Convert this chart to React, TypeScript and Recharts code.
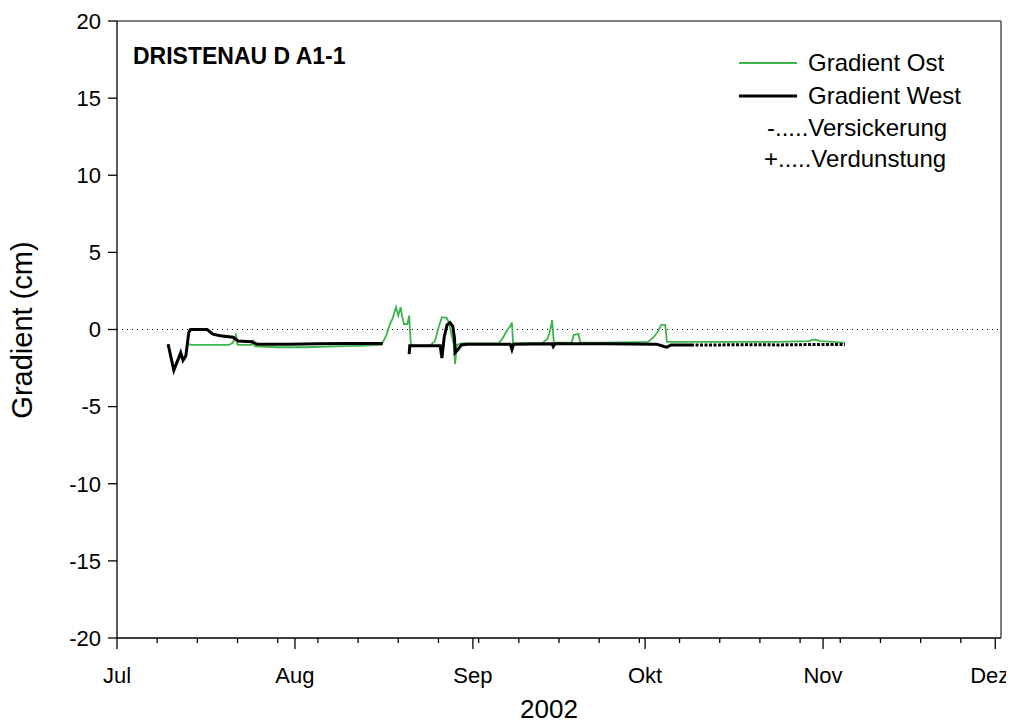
import React from "react";
import { LineChart, Line, XAxis, YAxis, ReferenceLine } from "recharts";

// Days since 1 July 2002
const ostDays = [12.5, 13, 19.5, 20.2, 20.7, 21.0, 23.5, 23.7, 24.0, 28, 33, 38, 43, 46.0, 46.5, 47.0, 47.5, 48.0, 48.6, 49.0, 49.4, 49.7, 50.0, 50.6, 50.9, 51.2, 54.5, 55.4, 55.9, 56.6, 57.4, 57.8, 58.3, 58.7, 58.9, 59.2, 60, 66.5, 67.3, 68.0, 68.5, 68.8, 69.0, 74.2, 75.0, 75.5, 75.8, 76.1, 79.2, 79.6, 80.4, 80.7, 85, 92.5, 93.5, 94.3, 94.8, 95.5, 95.8, 105, 115, 120.5, 121.5, 122.5, 126.8];
const ostValues = [-0.95, -1.0, -1.0, -0.85, -0.35, -1.0, -1.0, -0.75, -1.1, -1.15, -1.15, -1.1, -1.05, -1.0, -0.7, -0.3, 0.3, 0.7, 1.45, 0.9, 1.45, 0.8, 0.35, 0.35, 0.9, -1.05, -1.05, -0.75, 0.0, 0.8, 0.75, 0.5, -0.4, -1.0, -2.25, -1.0, -0.9, -0.9, -0.5, 0.0, 0.2, 0.45, -0.9, -0.85, -0.6, 0.0, 0.6, -0.85, -0.85, -0.35, -0.3, -0.85, -0.85, -0.8, -0.5, -0.1, 0.3, 0.3, -0.8, -0.8, -0.8, -0.75, -0.65, -0.75, -0.85];

const westDays = [8.9, 9.9, 11.1, 11.5, 12.0, 12.5, 12.8, 15.7, 16.7, 18.0, 20.2, 21.1, 23.5, 24.4, 30, 35, 40, 46.3, 46.4, 50.9, 51.0, 56.3, 56.6, 57.0, 57.5, 58.0, 58.5, 58.8, 58.9, 59.4, 60.0, 61, 68.5, 68.8, 69.1, 75.8, 76.0, 76.3, 85, 94, 95.3, 95.8, 96.5, 100];
const westValues: (number | null)[] = [-0.95, -2.65, -1.5, -2.0, -1.7, -0.2, 0.0, 0.0, -0.3, -0.4, -0.5, -0.75, -0.8, -0.95, -0.95, -0.92, -0.9, -0.9, null, -1.6, -1.05, -1.05, -1.85, -0.5, 0.3, 0.45, 0.2, -0.6, -1.5, -1.3, -1.0, -0.95, -0.95, -1.3, -0.95, -0.92, -1.1, -0.92, -0.92, -0.95, -1.1, -1.15, -1.0, -1.0];

const westDottedDays = [100, 105, 110, 115, 120, 126.8];
const westDottedValues = [-1.0, -1.0, -0.98, -1.0, -0.98, -0.98];

const monthDays = [0, 31, 62, 92, 123, 153];
const monthLabels = ["Jul", "Aug", "Sep", "Okt", "Nov", "Dez"];
const weekDays = [7, 14, 21, 28, 35, 42, 49, 56, 63, 70, 77, 84, 91, 98, 105, 112, 119, 126, 133, 140, 147];
const yTicks = [-20, -15, -10, -5, 0, 5, 10, 15, 20];

const seriesNames = ["Gradient Ost", "Gradient West"];
const noteLabels = ["-.....Versickerung", "+.....Verdunstung"];
const title = "DRISTENAU D A1-1";
const yLabel = "Gradient (cm)";
const xLabel = "2002";

const FONT = "'Liberation Sans', Arial, Helvetica, sans-serif";
const GREEN = "#3cb44b";

const ostData = ostDays.map((d, i) => ({ x: d, y: ostValues[i] }));
const westData = westDays.map((d, i) => ({ x: d, y: westValues[i] }));
const westDottedData = westDottedDays.map((d, i) => ({ x: d, y: westDottedValues[i] }));
const xTicks = [...monthDays, ...weekDays].sort((a, b) => a - b);

const XTick = (props: any) => {
  const { x, y, payload } = props;
  const idx = monthDays.indexOf(payload.value);
  const major = idx >= 0;
  const last = idx === monthDays.length - 1;
  return (
    <g>
      <line x1={x} x2={x} y1={y} y2={y + (major ? 11 : 5)} stroke="#000" strokeWidth={1.3} />
      {major && (
        <text
          x={last ? x + 14 : x}
          y={y + 45}
          textAnchor={last ? "end" : "middle"}
          fontSize={22}
          fill="#000"
          fontFamily={FONT}
        >
          {monthLabels[idx]}
        </text>
      )}
    </g>
  );
};

export default function App() {
  const W = 1006;
  const H = 711;
  return (
    <div style={{ position: "relative", width: W, height: H }}>
      <style>{"svg, svg.recharts-surface, .recharts-wrapper{overflow:visible !important}"}</style>
      <LineChart width={W} height={H} margin={{ top: 13, right: 13, left: 49, bottom: 41 }} style={{ overflow: "visible" }}>
        <XAxis
          type="number"
          dataKey="x"
          domain={[0, 154]}
          ticks={xTicks}
          interval={0}
          tick={<XTick />}
          tickLine={false}
          tickSize={0}
          tickMargin={0}
          height={40}
          axisLine={{ stroke: "#000", strokeWidth: 1.3 }}
          allowDataOverflow
        />
        <YAxis
          type="number"
          domain={[-20, 20]}
          ticks={yTicks}
          interval={0}
          width={60}
          tickSize={9}
          tickMargin={7}
          tick={{ fontSize: 22, fill: "#000", fontFamily: FONT }}
          tickLine={{ stroke: "#000", strokeWidth: 1.3 }}
          axisLine={{ stroke: "#000", strokeWidth: 1.3 }}
          allowDataOverflow
        />
        <ReferenceLine y={20} stroke="#555" strokeWidth={1.5} />
        <ReferenceLine x={154} stroke="#555" strokeWidth={1.5} />
        <ReferenceLine y={0} stroke="#000" strokeWidth={1} strokeDasharray="1 4" />
        <Line
          data={ostData}
          dataKey="y"
          name={seriesNames[0]}
          stroke={GREEN}
          strokeWidth={1.8}
          dot={false}
          type="linear"
          isAnimationActive={false}
        />
        <Line
          data={westData}
          dataKey="y"
          name={seriesNames[1]}
          stroke="#000"
          strokeWidth={3}
          dot={false}
          type="linear"
          connectNulls={false}
          isAnimationActive={false}
        />
        <Line
          data={westDottedData}
          dataKey="y"
          name={seriesNames[1] + " (lückenhaft)"}
          stroke="#000"
          strokeWidth={3}
          strokeDasharray="3 1.5"
          dot={false}
          type="linear"
          legendType="none"
          isAnimationActive={false}
        />
      </LineChart>
      <svg
        width={W}
        height={H}
        style={{ position: "absolute", left: 0, top: 0, pointerEvents: "none" }}
        fontFamily={FONT}
      >
        <text x={125} y={56} fontSize={23} fontWeight="bold" fill="#000">{title}</text>
        <line x1={731} x2={789} y1={55} y2={55} stroke={GREEN} strokeWidth={2} />
        <text x={800} y={63} fontSize={24} fill="#000">{seriesNames[0]}</text>
        <line x1={731} x2={789} y1={88} y2={88} stroke="#000" strokeWidth={3} />
        <text x={800} y={96} fontSize={24} fill="#000">{seriesNames[1]}</text>
        <text x={759} y={128} fontSize={24} fill="#000">{noteLabels[0]}</text>
        <text x={756} y={159} fontSize={24} fill="#000">{noteLabels[1]}</text>
        <text
          x={14}
          y={322}
          fontSize={29}
          fill="#000"
          textAnchor="middle"
          dominantBaseline="central"
          transform="rotate(-90 14 322)"
        >
          {yLabel}
        </text>
        <text x={541} y={710} fontSize={26} fill="#000" textAnchor="middle">{xLabel}</text>
      </svg>
    </div>
  );
}
